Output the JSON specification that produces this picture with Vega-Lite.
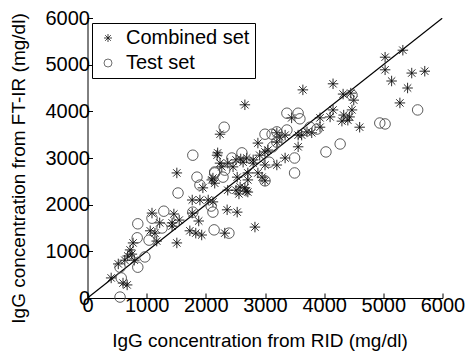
{
"$schema": "https://vega.github.io/schema/vega-lite/v6.json",
"width": 355, "height": 280,
"autosize": {"type": "none"},
"padding": {"left": 87.5, "top": 18, "right": 24.5, "bottom": 59},
"config": {
 "view": {"stroke": null},
 "font": "Liberation Sans",
 "axis": {"grid": false, "domainColor": "black", "domainWidth": 1, "tickColor": "black", "tickSize": -5, "tickWidth": 1,
  "labelFontSize": 20, "labelColor": "black", "titleFontSize": 19, "titleFontWeight": "normal", "titleColor": "black",
  "format": "d", "labelFlush": false}
},
"layer": [
 {
  "data": {"values": [{"rid": 0, "ftir": 0}, {"rid": 6000, "ftir": 6000}]},
  "mark": {"type": "line", "color": "black", "strokeWidth": 1.2, "clip": true},
  "encoding": {
   "x": {"field": "rid", "type": "quantitative", "scale": {"domain": [0,6000], "nice": false},
    "axis": {"title": "IgG concentration from RID (mg/dl)", "values": [0,1000,2000,3000,4000,5000,6000], "format": "d", "labelPadding": 2, "titleX": 172, "titleY": 42, "titleBaseline": "middle"}},
   "y": {"field": "ftir", "type": "quantitative", "scale": {"domain": [0,6000], "nice": false},
    "axis": {"title": "IgG concentration from FT-IR (mg/dl)", "values": [0,1000,2000,3000,4000,5000,6000], "format": "d", "labelPadding": 3, "titleX": -69, "titleY": 150, "titleAngle": -90, "titleBaseline": "middle", "titleAlign": "center"}}
  }
 },
 {
  "data": {"values": [
{"set":"Combined set","rid":400,"ftir":430},{"set":"Combined set","rid":600,"ftir":320},{"set":"Combined set","rid":670,"ftir":280},{"set":"Combined set","rid":520,"ftir":730},{"set":"Combined set","rid":630,"ftir":810},{"set":"Combined set","rid":790,"ftir":810},{"set":"Combined set","rid":750,"ftir":940},{"set":"Combined set","rid":680,"ftir":900},{"set":"Combined set","rid":720,"ftir":1030},{"set":"Combined set","rid":770,"ftir":1180},{"set":"Combined set","rid":1090,"ftir":1820},{"set":"Combined set","rid":1460,"ftir":1800},{"set":"Combined set","rid":1220,"ftir":1610},{"set":"Combined set","rid":1430,"ftir":1610},{"set":"Combined set","rid":1430,"ftir":1540},{"set":"Combined set","rid":1060,"ftir":1440},{"set":"Combined set","rid":1140,"ftir":1390},{"set":"Combined set","rid":1170,"ftir":1220},{"set":"Combined set","rid":1510,"ftir":1180},{"set":"Combined set","rid":1730,"ftir":1440},{"set":"Combined set","rid":1770,"ftir":1820},{"set":"Combined set","rid":1770,"ftir":2100},{"set":"Combined set","rid":1550,"ftir":1670},{"set":"Combined set","rid":2190,"ftir":3060},{"set":"Combined set","rid":1510,"ftir":2680},{"set":"Combined set","rid":1880,"ftir":1650},{"set":"Combined set","rid":1830,"ftir":1390},{"set":"Combined set","rid":1930,"ftir":1350},{"set":"Combined set","rid":1900,"ftir":2100},{"set":"Combined set","rid":2040,"ftir":2100},{"set":"Combined set","rid":2120,"ftir":2060},{"set":"Combined set","rid":1950,"ftir":2360},{"set":"Combined set","rid":2100,"ftir":2530},{"set":"Combined set","rid":2150,"ftir":2460},{"set":"Combined set","rid":2360,"ftir":1890},{"set":"Combined set","rid":2530,"ftir":1840},{"set":"Combined set","rid":2320,"ftir":1390},{"set":"Combined set","rid":2830,"ftir":1520},{"set":"Combined set","rid":2510,"ftir":2310},{"set":"Combined set","rid":2560,"ftir":2230},{"set":"Combined set","rid":2680,"ftir":2290},{"set":"Combined set","rid":2710,"ftir":2530},{"set":"Combined set","rid":2950,"ftir":2590},{"set":"Combined set","rid":3000,"ftir":2510},{"set":"Combined set","rid":2370,"ftir":2890},{"set":"Combined set","rid":2240,"ftir":2890},{"set":"Combined set","rid":2510,"ftir":2960},{"set":"Combined set","rid":2690,"ftir":3000},{"set":"Combined set","rid":2800,"ftir":2890},{"set":"Combined set","rid":2910,"ftir":3060},{"set":"Combined set","rid":3000,"ftir":3130},{"set":"Combined set","rid":2200,"ftir":3110},{"set":"Combined set","rid":2590,"ftir":2980},{"set":"Combined set","rid":2370,"ftir":2310},{"set":"Combined set","rid":2580,"ftir":2380},{"set":"Combined set","rid":2660,"ftir":4140},{"set":"Combined set","rid":2240,"ftir":3510},{"set":"Combined set","rid":2880,"ftir":3320},{"set":"Combined set","rid":3050,"ftir":3170},{"set":"Combined set","rid":3250,"ftir":3450},{"set":"Combined set","rid":3560,"ftir":3490},{"set":"Combined set","rid":3710,"ftir":3560},{"set":"Combined set","rid":3560,"ftir":3240},{"set":"Combined set","rid":3340,"ftir":3000},{"set":"Combined set","rid":3200,"ftir":2850},{"set":"Combined set","rid":2800,"ftir":2960},{"set":"Combined set","rid":2710,"ftir":2680},{"set":"Combined set","rid":2880,"ftir":2680},{"set":"Combined set","rid":2630,"ftir":2910},{"set":"Combined set","rid":2460,"ftir":2810},{"set":"Combined set","rid":2270,"ftir":2810},{"set":"Combined set","rid":2120,"ftir":2570},{"set":"Combined set","rid":2530,"ftir":2590},{"set":"Combined set","rid":2660,"ftir":2360},{"set":"Combined set","rid":2710,"ftir":2270},{"set":"Combined set","rid":4150,"ftir":4590},{"set":"Combined set","rid":3640,"ftir":4460},{"set":"Combined set","rid":4320,"ftir":4370},{"set":"Combined set","rid":4450,"ftir":4390},{"set":"Combined set","rid":4500,"ftir":4240},{"set":"Combined set","rid":4150,"ftir":4030},{"set":"Combined set","rid":4100,"ftir":3880},{"set":"Combined set","rid":3930,"ftir":3860},{"set":"Combined set","rid":4330,"ftir":3920},{"set":"Combined set","rid":4400,"ftir":3810},{"set":"Combined set","rid":4300,"ftir":3790},{"set":"Combined set","rid":4430,"ftir":3880},{"set":"Combined set","rid":4600,"ftir":3660},{"set":"Combined set","rid":3450,"ftir":3860},{"set":"Combined set","rid":3790,"ftir":3540},{"set":"Combined set","rid":3620,"ftir":3490},{"set":"Combined set","rid":3930,"ftir":3660},{"set":"Combined set","rid":3200,"ftir":3540},{"set":"Combined set","rid":3340,"ftir":3490},{"set":"Combined set","rid":3200,"ftir":3340},{"set":"Combined set","rid":5330,"ftir":5310},{"set":"Combined set","rid":5030,"ftir":5160},{"set":"Combined set","rid":5030,"ftir":4890},{"set":"Combined set","rid":5140,"ftir":4650},{"set":"Combined set","rid":5480,"ftir":4820},{"set":"Combined set","rid":5700,"ftir":4860},{"set":"Combined set","rid":5410,"ftir":4500},{"set":"Combined set","rid":5280,"ftir":4180},{"set":"Combined set","rid":4470,"ftir":4030},{"set":"Combined set","rid":3000,"ftir":2850},
{"set":"Test set","rid":550,"ftir":20},{"set":"Test set","rid":570,"ftir":430},{"set":"Test set","rid":550,"ftir":660},{"set":"Test set","rid":850,"ftir":660},{"set":"Test set","rid":970,"ftir":880},{"set":"Test set","rid":840,"ftir":1290},{"set":"Test set","rid":1040,"ftir":1240},{"set":"Test set","rid":850,"ftir":1590},{"set":"Test set","rid":1260,"ftir":1500},{"set":"Test set","rid":1290,"ftir":1860},{"set":"Test set","rid":1090,"ftir":1710},{"set":"Test set","rid":1530,"ftir":2250},{"set":"Test set","rid":1780,"ftir":3060},{"set":"Test set","rid":1850,"ftir":2590},{"set":"Test set","rid":1900,"ftir":2420},{"set":"Test set","rid":2150,"ftir":2680},{"set":"Test set","rid":2290,"ftir":2590},{"set":"Test set","rid":2610,"ftir":3110},{"set":"Test set","rid":2440,"ftir":3000},{"set":"Test set","rid":3000,"ftir":2510},{"set":"Test set","rid":1780,"ftir":1840},{"set":"Test set","rid":2120,"ftir":1840},{"set":"Test set","rid":2140,"ftir":1460},{"set":"Test set","rid":2390,"ftir":1390},{"set":"Test set","rid":2090,"ftir":1970},{"set":"Test set","rid":2310,"ftir":3660},{"set":"Test set","rid":3370,"ftir":3960},{"set":"Test set","rid":3560,"ftir":3960},{"set":"Test set","rid":3590,"ftir":3840},{"set":"Test set","rid":3000,"ftir":3510},{"set":"Test set","rid":3120,"ftir":3510},{"set":"Test set","rid":3370,"ftir":3600},{"set":"Test set","rid":3200,"ftir":3340},{"set":"Test set","rid":2320,"ftir":2740},{"set":"Test set","rid":2150,"ftir":2700},{"set":"Test set","rid":3070,"ftir":2910},{"set":"Test set","rid":3500,"ftir":3000},{"set":"Test set","rid":3500,"ftir":2680},{"set":"Test set","rid":3760,"ftir":3660},{"set":"Test set","rid":3880,"ftir":3620},{"set":"Test set","rid":3200,"ftir":3560},{"set":"Test set","rid":3130,"ftir":3240},{"set":"Test set","rid":4030,"ftir":3130},{"set":"Test set","rid":4270,"ftir":3300},{"set":"Test set","rid":5580,"ftir":4030},{"set":"Test set","rid":4940,"ftir":3750},{"set":"Test set","rid":5030,"ftir":3730},{"set":"Test set","rid":4470,"ftir":4350}
  ]},
  "mark": {"type": "point", "filled": false, "strokeWidth": 0.9, "size": 110, "opacity": 1},
  "encoding": {
   "x": {"field": "rid", "type": "quantitative", "axis": {"values": [0,1000,2000,3000,4000,5000,6000], "format": "d"}},
   "y": {"field": "ftir", "type": "quantitative", "axis": {"values": [0,1000,2000,3000,4000,5000,6000], "format": "d"}},
   "shape": {"field": "set", "type": "nominal",
    "scale": {"domain": ["Combined set", "Test set"], "range": ["M-1,0L1,0M0,-1L0,1M-0.7,-0.7L0.7,0.7M-0.7,0.7L0.7,-0.7", "circle"]},
    "legend": {"title": null, "orient": "none", "legendX": 4.5, "legendY": 5, "strokeColor": "black", "fillColor": "white", "padding": 5,
     "labelFontSize": 20, "labelColor": "black", "symbolSize": 64, "symbolStrokeWidth": 0.8, "rowPadding": 5, "symbolOffset": 1, "labelOffset": 8}},
   "color": {"field": "set", "type": "nominal",
    "scale": {"domain": ["Combined set", "Test set"], "range": ["#111111", "#4a4a4a"]},
    "legend": {"title": null, "orient": "none", "legendX": 4.5, "legendY": 5, "strokeColor": "black", "fillColor": "white", "padding": 5,
     "labelFontSize": 20, "labelColor": "black", "symbolSize": 64, "symbolStrokeWidth": 0.8, "rowPadding": 5, "symbolOffset": 1, "labelOffset": 8}}
  }
 }
]
}
